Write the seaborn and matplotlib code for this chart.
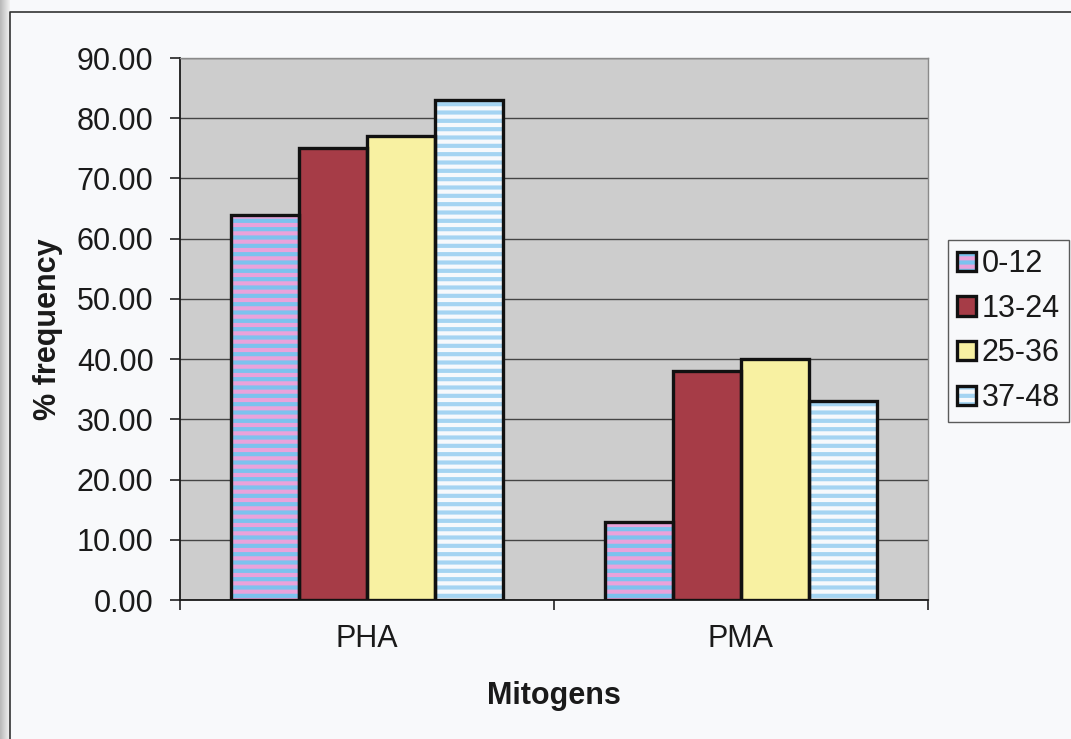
import matplotlib
matplotlib.use("Agg")
import matplotlib.pyplot as plt
from matplotlib.patches import Rectangle
from matplotlib.lines import Line2D
from matplotlib.ticker import FixedLocator, FormatStrFormatter
import numpy as np
import pandas as pd
import seaborn as sns

# Data
mitogens = ["PHA", "PMA"]
age_groups = ["0-12", "13-24", "25-36", "37-48"]
pha_values = [64, 75, 77, 83]
pma_values = [13, 38, 40, 33]
y_ticks = [0, 10, 20, 30, 40, 50, 60, 70, 80, 90]

rows = []
for group, pha, pma in zip(age_groups, pha_values, pma_values):
    rows.append({"Mitogens": "PHA", "Age": group, "freq": pha})
    rows.append({"Mitogens": "PMA", "Age": group, "freq": pma})
df = pd.DataFrame(rows)

# Fill styles per age group: (face colour, stripe colour, hatch)
styles = {
    "0-12": ("#eaa2da", "#7cc2ee", "--"),
    "13-24": ("#a63c47", "#a63c47", ""),
    "25-36": ("#f8f1a2", "#f8f1a2", ""),
    "37-48": ("#f6f9fc", "#a4d4f2", "--"),
}

sns.set_style("white")
plt.rcParams["font.family"] = ["Liberation Sans", "DejaVu Sans"]
plt.rcParams["hatch.linewidth"] = 3.0
FS = 22

fig = plt.figure(figsize=(10.71, 7.39), dpi=100, facecolor="#f8f9fb")

# Scanned page edge shading on the left
edge_ax = fig.add_axes([0, 0, 10 / 1071, 1])
edge_ax.imshow(np.linspace(0.72, 0.95, 32).reshape(1, -1), cmap="gray",
               vmin=0, vmax=1, aspect="auto", extent=[0, 1, 0, 1])
edge_ax.axis("off")

# Outer chart frame
fig.add_artist(Line2D([10 / 1071, 10 / 1071, 1], [0, 1 - 12 / 739, 1 - 12 / 739],
                      transform=fig.transFigure, color="#333333", lw=1.2))

ax = fig.add_axes([180 / 1071, 1 - 600 / 739, 748 / 1071, 542 / 739])
ax.set_facecolor("#cdcdcd")

palette = {g: styles[g][0] for g in age_groups}
sns.barplot(data=df, x="Mitogens", y="freq", hue="Age", order=mitogens,
            hue_order=age_groups, palette=palette, width=0.725, saturation=1,
            legend=False, ax=ax, zorder=3)

for group, container in zip(age_groups, ax.containers):
    fc, hc, hatch = styles[group]
    for bar in container:
        bar.set_facecolor(fc)
        bar.set_edgecolor(hc)
        bar.set_hatch(hatch)
        bar.set_linewidth(0)
        ax.add_patch(Rectangle(bar.get_xy(), bar.get_width(), bar.get_height(),
                               fill=False, edgecolor="#111111", lw=2.4, zorder=4))

ax.set_xlim(-0.5, 1.5)
ax.set_ylim(0, 90)
ax.set_axisbelow(True)
ax.yaxis.grid(True, color="#444444", lw=1.0)
ax.xaxis.grid(False)

ax.yaxis.set_major_locator(FixedLocator(y_ticks))
ax.yaxis.set_major_formatter(FormatStrFormatter("%.2f"))
ax.tick_params(axis="y", which="major", direction="out", length=7, width=1.2,
               color="#222222", labelsize=FS, pad=12, labelcolor="#1a1a1a", left=True)

# Category boundary ticks on the x axis, labels centred between them
ax.set_xticks([-0.5, 0.5, 1.5])
ax.set_xticklabels(["", "", ""])
ax.set_xticks([0, 1], minor=True)
ax.set_xticklabels(mitogens, minor=True)
ax.tick_params(axis="x", which="major", direction="out", length=7, width=1.2,
               color="#222222", bottom=True)
ax.tick_params(axis="x", which="minor", length=0, labelsize=FS, pad=17,
               labelcolor="#1a1a1a")

for side in ["left", "bottom"]:
    ax.spines[side].set_color("#1a1a1a")
    ax.spines[side].set_linewidth(1.3)
for side in ["top", "right"]:
    ax.spines[side].set_color("#8a8a8a")
    ax.spines[side].set_linewidth(1.0)

ax.set_xlabel("Mitogens", fontsize=FS, fontweight="bold", labelpad=20, color="#1a1a1a")
ax.set_ylabel("% frequency", fontsize=FS, fontweight="bold", labelpad=10, color="#1a1a1a")

# Legend with hatched swatches and black outlines
handles = []
for group in age_groups:
    fc, hc, hatch = styles[group]
    fill = Rectangle((0, 0), 1, 1, facecolor=fc, edgecolor=hc, hatch=hatch, lw=0)
    outline = Rectangle((0, 0), 1, 1, fill=False, edgecolor="#111111", lw=2.4)
    handles.append((fill, outline))
leg = fig.legend(handles, age_groups, loc="upper left",
                 bbox_to_anchor=(948 / 1071, 1 - 240 / 739), borderaxespad=0,
                 fontsize=FS, frameon=True, fancybox=False, handlelength=0.6,
                 handleheight=0.6, handletextpad=0.2, labelspacing=0.48,
                 borderpad=0.3)
leg.get_frame().set_edgecolor("#333333")
leg.get_frame().set_linewidth(1.0)
leg.get_frame().set_facecolor("#f8f9fb")
for t in leg.get_texts():
    t.set_color("#1a1a1a")

fig.savefig("out.png", dpi=100, facecolor=fig.get_facecolor())
